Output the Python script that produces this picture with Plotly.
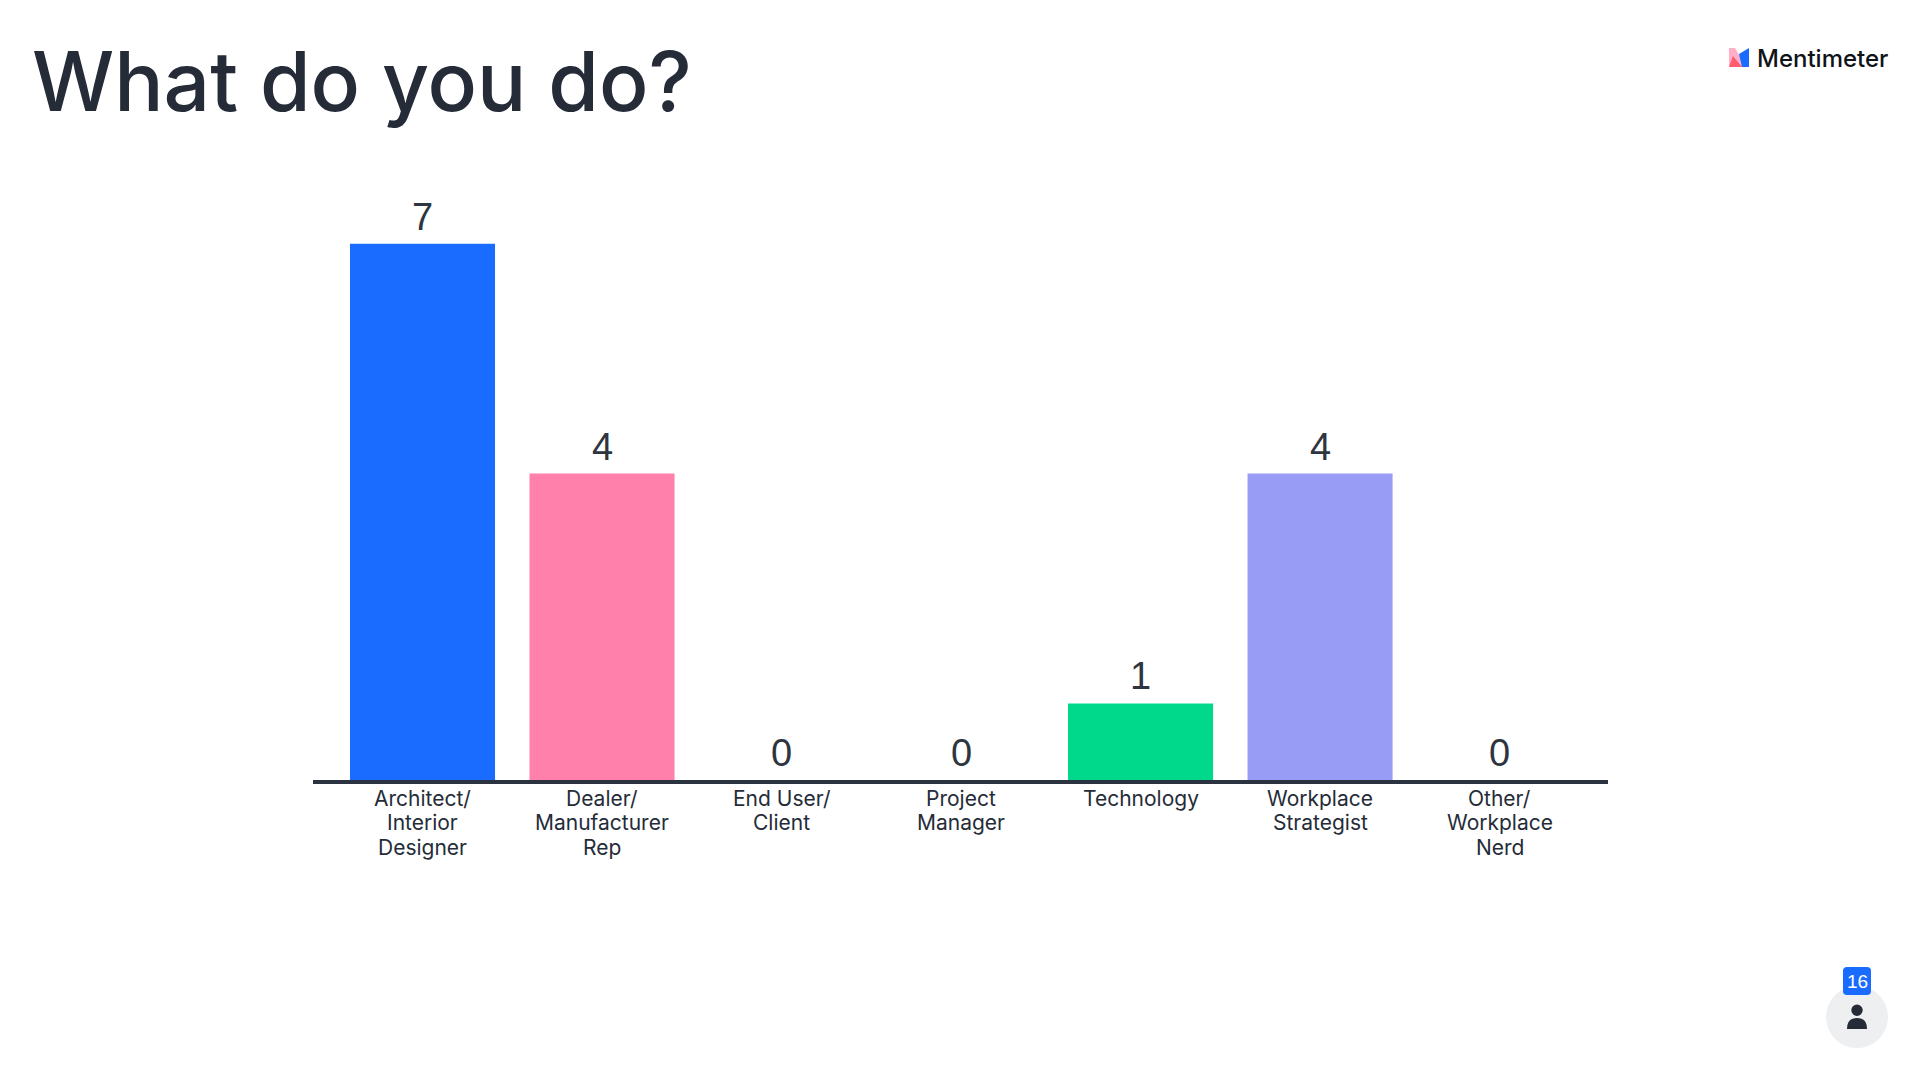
import plotly.graph_objects as go

categories = [
    "Architect/ Interior Designer",
    "Dealer/ Manufacturer Rep",
    "End User/ Client",
    "Project Manager",
    "Technology",
    "Workplace Strategist",
    "Other/ Workplace Nerd",
]
label_lines = [
    ["Architect/", "Interior", "Designer"],
    ["Dealer/", "Manufacturer", "Rep"],
    ["End User/", "Client"],
    ["Project", "Manager"],
    ["Technology"],
    ["Workplace", "Strategist"],
    ["Other/", "Workplace", "Nerd"],
]
values = [7, 4, 0, 0, 1, 4, 0]
bar_colors = ["#196cff", "#ff80ab", "#00d98b", "#00d98b", "#00d98b", "#989cf5", "#989cf5"]

W, H = 1920, 1080
PLOT_L, PLOT_R, PLOT_T, PLOT_B = 313, 1608, 135, 780
DARK = "#252c38"
UI_FONT = "Inter"


def px(x):
    return (x - PLOT_L) / (PLOT_R - PLOT_L)


def py(y):
    return (PLOT_B - y) / (PLOT_B - PLOT_T)


def path(points):
    return "M " + " L ".join(f"{px(x)},{py(y)}" for x, y in points) + " Z"


fig = go.Figure(go.Bar(
    x=categories,
    y=values,
    width=0.808,
    marker=dict(color=bar_colors, line_width=0),
    cliponaxis=False,
    hoverinfo="skip",
))

annotations = []
# value labels sit further off the bars than textposition="outside" allows
for cat, val in zip(categories, values):
    annotations.append(dict(
        x=cat, y=val, xref="x", yref="y", text=str(val), showarrow=False,
        xanchor="center", yanchor="bottom", yshift=4,
        font=dict(family="Liberation Sans", size=38, color="#2f3540"),
    ))

# category labels, one annotation per line to get the tight line spacing
for cat, lines in zip(categories, label_lines):
    for i, line in enumerate(lines):
        annotations.append(dict(
            x=cat, y=0, xref="x", yref="paper", text=line, showarrow=False,
            yanchor="middle", xanchor="center", yshift=-18 - 24.5 * i,
            font=dict(family=UI_FONT, size=21, color=DARK),
        ))

annotations += [
    dict(x=px(30), y=py(81), xref="paper", yref="paper", text="What do you do?", showarrow=False,
         xanchor="left", yanchor="middle", font=dict(family=UI_FONT, size=82, weight=500, color=DARK)),
    dict(x=px(1755), y=py(58), xref="paper", yref="paper", text="Mentimeter", showarrow=False,
         xanchor="left", yanchor="middle", font=dict(family=UI_FONT, size=24, weight=500, color="#101318")),
    dict(x=px(1857), y=py(981), xref="paper", yref="paper", text="16", showarrow=False,
         xanchor="center", yanchor="middle", font=dict(family="Liberation Sans", size=19, color="#ffffff")),
]

shapes = [
    # logo
    dict(type="path", xref="paper", yref="paper", line_width=0, fillcolor="#ffb0c8",
         path=path([(1729, 48), (1735, 48), (1742, 60), (1742, 67), (1729, 67)])),
    dict(type="path", xref="paper", yref="paper", line_width=0, fillcolor="#ff5c6c",
         path=path([(1729, 67), (1733, 56), (1742, 67)])),
    dict(type="path", xref="paper", yref="paper", line_width=0, fillcolor="#196cff",
         path=path([(1749, 48), (1749, 67), (1742, 67), (1739, 54)])),
    # responses badge
    dict(type="circle", xref="paper", yref="paper", line_width=0, fillcolor="#eeeff1",
         x0=px(1826), x1=px(1888), y0=py(986), y1=py(1048)),
    dict(type="path", xref="paper", yref="paper", line_width=0, fillcolor="#196cff",
         path=(f"M {px(1847)},{py(967)} L {px(1867)},{py(967)} Q {px(1871)},{py(967)} {px(1871)},{py(971)} "
               f"L {px(1871)},{py(991)} Q {px(1871)},{py(995)} {px(1867)},{py(995)} "
               f"L {px(1847)},{py(995)} Q {px(1843)},{py(995)} {px(1843)},{py(991)} "
               f"L {px(1843)},{py(971)} Q {px(1843)},{py(967)} {px(1847)},{py(967)} Z")),
    dict(type="circle", xref="paper", yref="paper", line_width=0, fillcolor=DARK,
         x0=px(1851.3), x1=px(1862.7), y0=py(1004.5), y1=py(1016)),
    dict(type="path", xref="paper", yref="paper", line_width=0, fillcolor=DARK,
         path=(f"M {px(1847)},{py(1029)} Q {px(1847)},{py(1018)} {px(1857)},{py(1018)} "
               f"Q {px(1867)},{py(1018)} {px(1867)},{py(1029)} Z")),
]

fig.update_layout(
    width=W,
    height=H,
    margin=dict(l=PLOT_L, r=W - PLOT_R, t=PLOT_T, b=H - PLOT_B, pad=0),
    paper_bgcolor="#ffffff",
    plot_bgcolor="#ffffff",
    showlegend=False,
    annotations=annotations,
    shapes=shapes,
    xaxis=dict(
        type="category",
        categoryorder="array",
        categoryarray=categories,
        range=[-0.61, 6.604],
        showticklabels=False,
        ticks="",
        showgrid=False,
        zeroline=False,
        showline=True,
        linecolor="#2b3340",
        linewidth=4,
    ),
    yaxis=dict(
        range=[0, (PLOT_B - PLOT_T) / 76.6],
        visible=False,
        showgrid=False,
        zeroline=False,
    ),
)

# the default page has an 8px body margin
fig.write_html("out.html", config={"displayModeBar": False},
               post_script="document.body.style.margin = '0';")
